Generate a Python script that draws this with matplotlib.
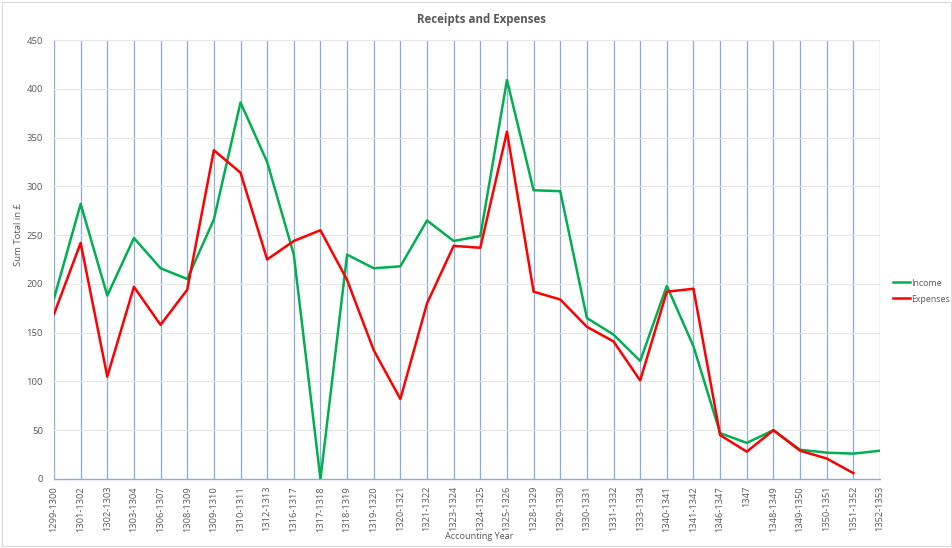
import numpy as np
import matplotlib
matplotlib.use("Agg")
import matplotlib.pyplot as plt

# accounting years (category axis)
years = ["1299-1300", "1301-1302", "1302-1303", "1303-1304", "1306-1307",
         "1308-1309", "1309-1310", "1310-1311", "1312-1313", "1316-1317",
         "1317-1318", "1318-1319", "1319-1320", "1320-1321", "1321-1322",
         "1323-1324", "1324-1325", "1325-1326", "1328-1329", "1329-1330",
         "1330-1331", "1331-1332", "1333-1334", "1340-1341", "1341-1342",
         "1346-1347", "1347", "1348-1349", "1349-1350", "1350-1351",
         "1351-1352", "1352-1353"]

income = [185, 282, 188, 247, 216, 205, 266, 386, 325, 230,
          0, 230, 216, 218, 265, 244, 249, 409, 296, 295,
          165, 148, 121, 198, 136, 47, 37, 50, 30, 27,
          26, 29]

expenses = [169, 242, 105, 197, 158, 194, 337, 314, 225, 244,
            255, 204, 132, 82, 180, 239, 237, 356, 192, 184,
            156, 141, 101, 192, 195, 45, 28, 50, 29, 21,
            6, np.nan]

plt.rcParams['font.family'] = ['Open Sans', 'DejaVu Sans']

fig = plt.figure(figsize=(9.53, 5.48), dpi=100)
ax = fig.add_axes([54 / 953, 1 - 479 / 548, (880 - 54) / 953, (479 - 40) / 548])

x = np.arange(len(years))
ax.plot(x, income, color="#00B050", linewidth=1.8, label="Income", zorder=3)
ax.plot(x, expenses, color="#FF0000", linewidth=1.8, label="Expenses", zorder=3)

ax.set_xlim(0, len(years) - 1)
ax.set_ylim(0, 450)
ax.set_yticks(np.arange(0, 451, 50))
ax.set_xticks(x)
ax.set_xticklabels(years, rotation=90, fontsize=6.7, color="#595959")
ax.tick_params(axis="y", labelsize=6.8, colors="#595959", length=0, pad=8)
ax.tick_params(axis="x", length=0, pad=5)

# gridlines: light grey horizontal, blue vertical
ax.grid(axis="y", color="#e6e6e6", linewidth=0.8, zorder=0)
ax.grid(axis="x", color="#8eaadb", linewidth=0.9, zorder=1)
for side in ["top", "right", "left"]:
    ax.spines[side].set_visible(False)
ax.spines["bottom"].set_color("#8eaadb")
ax.spines["bottom"].set_linewidth(1.0)
ax.set_axisbelow(True)

ax.set_ylabel("Sum Total in £", fontsize=6.8, color="#595959")
ax.yaxis.set_label_coords(-0.0375, 0.556)
ax.set_xlabel("Accounting Year", fontsize=6.6, color="#595959")
ax.xaxis.set_label_coords(0.5 + 12 / 826, -0.1207)

fig.text(0.505, 1 - 19 / 548, "Receipts and Expenses", ha="center", va="center",
         fontsize=8.3, fontweight="bold", color="#595959")

fig.legend(loc="center left", bbox_to_anchor=(891 / 953, 1 - 291 / 548),
           frameon=False, fontsize=6.3, handlelength=2.0, handletextpad=0.1,
           labelspacing=0.8, labelcolor="#595959", borderaxespad=0, borderpad=0.2)

# chart area border
fig.add_artist(plt.Rectangle((2 / 953, 2 / 548), 1 - 4 / 953, 1 - 4 / 548,
                             transform=fig.transFigure, fill=False,
                             edgecolor="#d9d9d9", linewidth=0.8))

fig.savefig("out.png", dpi=100)
